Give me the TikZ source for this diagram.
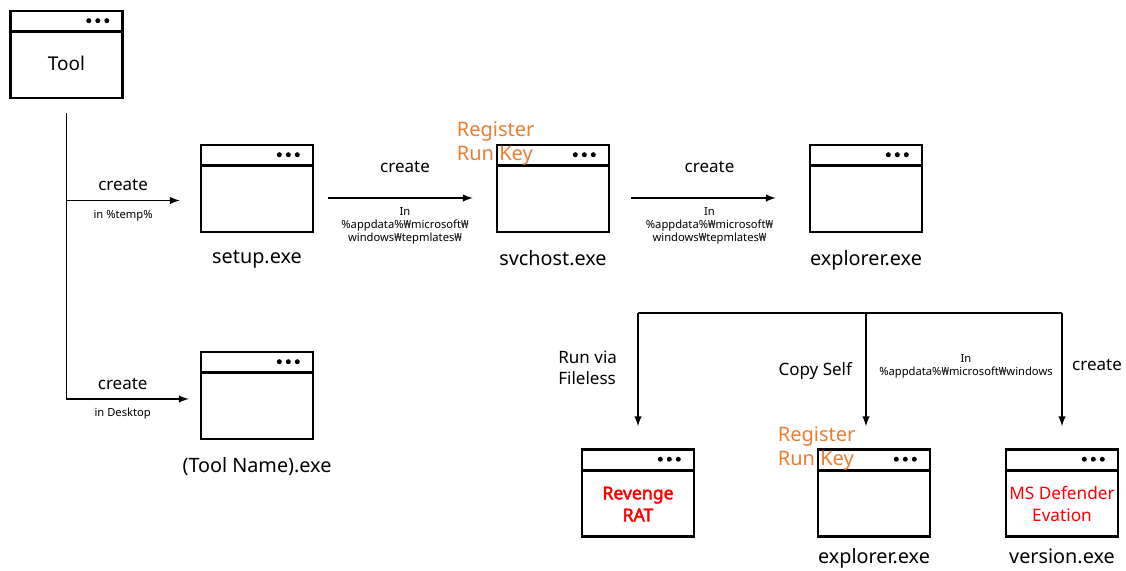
\documentclass[tikz,border=0pt]{standalone}
\usepackage{fontspec}
\setmainfont{Noto Sans}[AutoFakeBold=2.5]
\usepackage{tikz}
\usetikzlibrary{arrows,calc,positioning}

\definecolor{regorange}{HTML}{ED7D31}
\definecolor{alertred}{HTML}{FF0000}

\tikzset{
  win/.style={draw,line width=1.3pt,minimum width=56pt,minimum height=43.5pt,inner sep=0pt},
  wintext/.style={font=\fontsize{9.5}{11}\selectfont,align=center},
  alert/.style={text=alertred,font=\fontsize{8.6}{11}\selectfont,align=center},
  exename/.style={font=\fontsize{9.9}{11}\selectfont},
  verb/.style={font=\fontsize{8.5}{10.5}\selectfont,align=left},
  pathtxt/.style={font=\fontsize{5.6}{6.5}\selectfont,align=center},
  regkey/.style={text=regorange,font=\fontsize{10}{12}\selectfont,align=left},
  flow/.style={-latex,line width=0.7pt},
}

% title bar with the three dots
\newcommand{\winbar}[1]{%
  \draw[line width=1.3pt] ($(#1.north west)+(0pt,-11pt)$) -- ($(#1.north east)+(0pt,-11pt)$);
  \foreach \dx in {8.5,13,17.5}
    \fill ($(#1.north east)+(-\dx pt,-5.5pt)$) circle (1.25pt);
}

\begin{document}
\begin{tikzpicture}[x=0.5pt,y=-0.5pt]
        \useasboundingbox (0,0) rectangle (1126,570);

        % windows
        \node[win] (tool) at (66.5,54.5) {};
        \winbar{tool}
        \node[wintext] (tooltxt) at ([yshift=-4.5pt]tool.center) {Tool};

        \node[win] (setup) at (257,188.5) {};
        \winbar{setup}
        \node[exename,below=5pt of setup] (setupname) {setup.exe};

        \node[win] (svchost) at (553,188.5) {};
        \winbar{svchost}
        \node[exename,below=5pt of svchost] (svchostname) {svchost.exe};
        \node[regkey] (svchostkey) at (svchost.north west) {Register\\Run Key};

        \node[win] (explorer) at (866,188.5) {};
        \winbar{explorer}
        \node[exename,below=5pt of explorer] (explorername) {explorer.exe};

        \node[win] (toolname) at (257,395.5) {};
        \winbar{toolname}
        \node[exename,below=5pt of toolname] (toolnamename) {(Tool Name).exe};

        \node[win] (rat) at (638,493) {};
        \winbar{rat}
        \node[alert,font=\fontsize{8.8}{11}\selectfont\bfseries] (rattxt) at ([yshift=-5.5pt]rat.center) {Revenge\\RAT};

        \node[win] (explorer2) at (874,493) {};
        \winbar{explorer2}
        \node[exename,below=2pt of explorer2] (explorer2name) {explorer.exe};
        \node[regkey] (explorer2key) at (explorer2.north west) {Register\\Run Key};

        \node[win] (version) at (1062,493) {};
        \winbar{version}
        \node[alert] (versiontxt) at ([yshift=-5.5pt]version.center) {MS Defender\\Evation};
        \node[exename,below=2pt of version] (versionname) {version.exe};

        % tool drops
        \coordinate[below=7pt of tool] (trunk);
        \coordinate (setupin) at ([xshift=-10pt,yshift=-6pt]setup.west);
        \coordinate (namein) at ([xshift=-5.5pt,yshift=-1.75pt]toolname.west);
        \draw[flow] (trunk) |- (namein)
            node[pos=0.73,above=1pt,verb] {create}
            node[pos=0.73,below=1pt,pathtxt] {in Desktop};
        \draw[flow] (trunk |- setupin) -- (setupin)
            node[midway,above=1pt,verb] {create}
            node[midway,below=1pt,pathtxt] {in \%temp\%};

        % chain
        \draw[flow,shorten <=7pt,shorten >=11.5pt] ([yshift=-4.75pt]setup.east) -- ([yshift=-4.75pt]svchost.west)
            node[midway,above=9pt,verb] {create}
            node[midway,below=1pt,pathtxt] {In\\\%appdata\%₩microsoft₩\\windows₩tepmlates₩};
        \draw[flow,shorten <=10.5pt,shorten >=16.5pt] ([yshift=-4.75pt]svchost.east) -- ([yshift=-4.75pt]explorer.west)
            node[midway,above=9pt,verb] {create}
            node[midway,below=1pt,pathtxt] {In\\\%appdata\%₩microsoft₩\\windows₩tepmlates₩};

        % fan out
        \coordinate (busL) at (638,313);
        \coordinate (busM) at (866,313);
        \coordinate (busR) at (1062,313);
        \draw[line width=0.7pt] (busL) -- (busR);
        \draw[flow,shorten >=11pt] (busL) -- (rat.north);
        \draw[flow,shorten >=11pt] (busM) -- (busM |- explorer2.north);
        \draw[flow,shorten >=11pt] (busR) -- (version.north);

        \node[verb,anchor=east] (fileless) at (624,368) {Run via\\Fileless};
        \node[verb,anchor=east] (copyself) at (859,371) {Copy Self};
        \node[pathtxt] (copypath) at (966,366) {In\\\%appdata\%₩microsoft₩windows};
        \node[verb] (versioncreate) at (1097,365) {create};
    \end{tikzpicture}
\end{document}
